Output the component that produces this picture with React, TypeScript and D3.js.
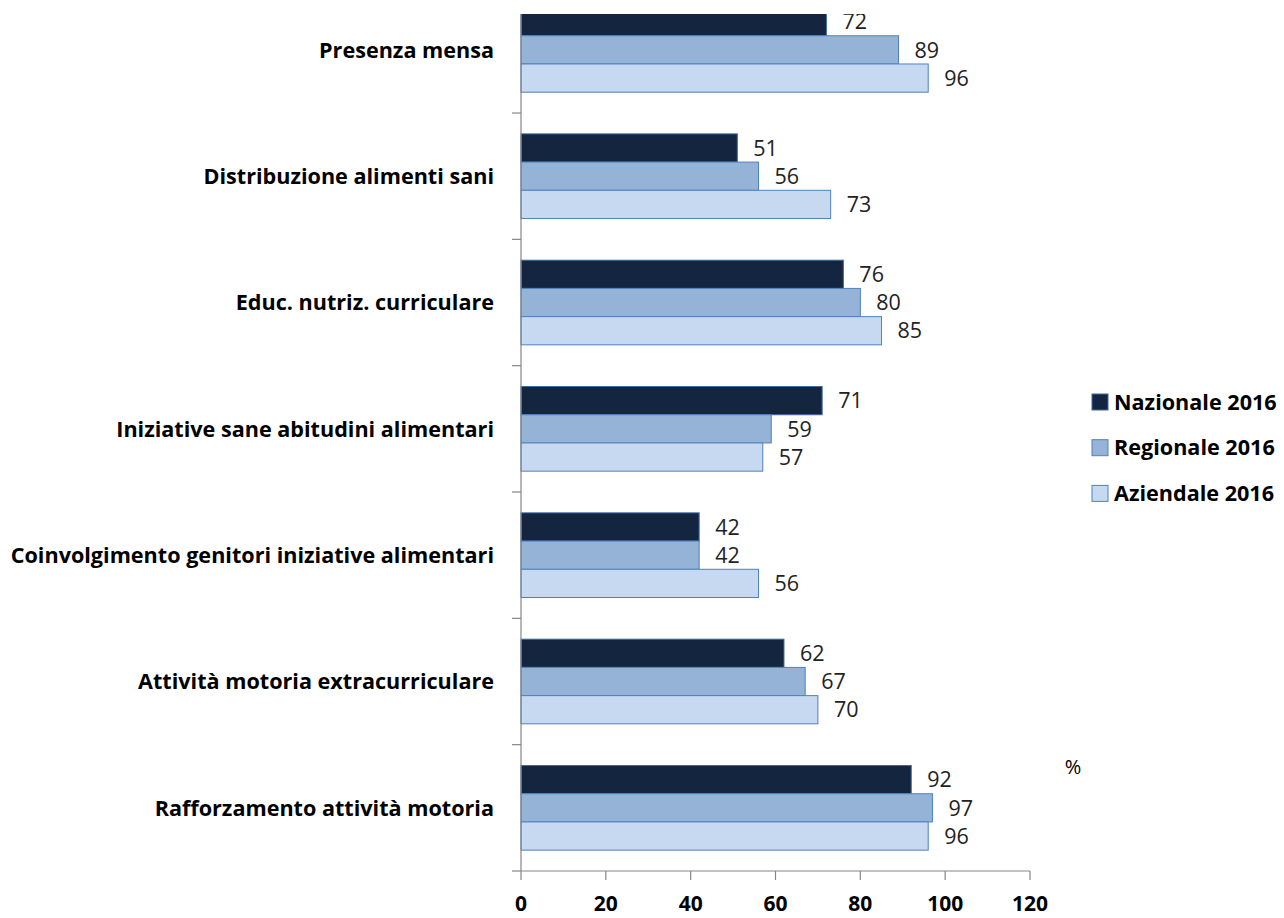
import React from "react";
import * as d3 from "d3";

const categories = [
  "Presenza mensa",
  "Distribuzione alimenti sani",
  "Educ. nutriz. curriculare",
  "Iniziative sane abitudini alimentari",
  "Coinvolgimento genitori iniziative alimentari",
  "Attività motoria extracurriculare",
  "Rafforzamento attività motoria",
];
const seriesNames = ["Nazionale 2016", "Regionale 2016", "Aziendale 2016"];
const nazionale = [72, 51, 76, 71, 42, 62, 92];
const regionale = [89, 56, 80, 59, 42, 67, 97];
const aziendale = [96, 73, 85, 57, 56, 70, 96];
const xTicks = [0, 20, 40, 60, 80, 100, 120];
const unitLabel = "%";

const fills = ["#14263f", "#95b3d7", "#c6d9f1"];
const strokes = ["#3d6aa3", "#4f81bd", "#4f81bd"];

const W = 1284;
const H = 918;
const plotLeft = 521;
const plotRight = 1030;
const plotTop = -13.3;
const plotBottom = 871;
const clipTop = 14;
const axisColor = "#868686";
const font = "'Open Sans', 'Noto Sans', sans-serif";

export default function App() {
  const series = [nazionale, regionale, aziendale];
  const x = d3.scaleLinear().domain([0, 120]).range([plotLeft, plotRight]);
  const y = d3
    .scaleBand<string>()
    .domain(categories)
    .range([plotTop, plotBottom])
    .paddingInner(0.33)
    .paddingOuter(0.165);
  const inner = d3
    .scaleBand<number>()
    .domain(d3.range(seriesNames.length))
    .range([0, y.bandwidth()]);
  const step = y.step();
  const boundaries = d3.range(1, categories.length + 1).map((i) => plotTop + i * step);

  return (
    <svg
      width={W}
      height={H}
      style={{ position: "absolute", left: 0, top: 0, background: "#fff" }}
    >
      <defs>
        <clipPath id="plotClip">
          <rect x={0} y={clipTop} width={W} height={H - clipTop} />
        </clipPath>
      </defs>
      <rect x={0} y={0} width={W} height={H} fill="#fff" />
      <g clipPath="url(#plotClip)">
        {categories.map((c, ci) =>
          series.map((vals, si) => {
            const by = (y(c) as number) + (inner(si) as number);
            const bh = inner.bandwidth();
            return (
              <g key={`${ci}-${si}`}>
                <rect
                  x={x(0)}
                  y={by}
                  width={x(vals[ci]) - x(0)}
                  height={bh}
                  fill={fills[si]}
                  stroke={strokes[si]}
                  strokeWidth={1}
                />
                <text
                  x={x(vals[ci]) + 16}
                  y={by + bh / 2}
                  dy="0.36em"
                  fontFamily={font}
                  fontSize={21.5}
                  fill="#222"
                >
                  {vals[ci]}
                </text>
              </g>
            );
          })
        )}
        {/* category axis */}
        <line x1={plotLeft} x2={plotLeft} y1={clipTop} y2={plotBottom} stroke={axisColor} strokeWidth={1.2} />
        {boundaries.map((b, i) => (
          <line key={i} x1={plotLeft - 9} x2={plotLeft} y1={b} y2={b} stroke={axisColor} strokeWidth={1.2} />
        ))}
      </g>
      {/* value axis */}
      <line x1={plotLeft} x2={plotRight} y1={plotBottom} y2={plotBottom} stroke={axisColor} strokeWidth={1.2} />
      {xTicks.map((t) => (
        <g key={t}>
          <line x1={x(t)} x2={x(t)} y1={plotBottom} y2={plotBottom + 9} stroke={axisColor} strokeWidth={1.2} />
          <text
            x={x(t)}
            y={911}
            textAnchor="middle"
            fontFamily={font}
            fontWeight="bold"
            fontSize={21}
            fill="#000"
          >
            {t}
          </text>
        </g>
      ))}
      {categories.map((c) => (
        <text
          key={c}
          x={494}
          y={(y(c) as number) + y.bandwidth() / 2}
          dy="0.36em"
          textAnchor="end"
          fontFamily={font}
          fontWeight="bold"
          fontSize={21.6}
          fill="#000"
        >
          {c}
        </text>
      ))}
      <text x={1073} y={767} dy="0.36em" textAnchor="middle" fontFamily={font} fontSize={20} fill="#000">
        {unitLabel}
      </text>
      {/* legend */}
      {seriesNames.map((s, i) => {
        const ly = 402 + i * 45.7;
        return (
          <g key={s}>
            <rect x={1092} y={ly - 8} width={16} height={16} fill={fills[i]} stroke={strokes[i]} strokeWidth={1} />
            <text x={1114} y={ly} dy="0.36em" fontFamily={font} fontWeight="bold" fontSize={21.6} fill="#000">
              {s}
            </text>
          </g>
        );
      })}
    </svg>
  );
}
